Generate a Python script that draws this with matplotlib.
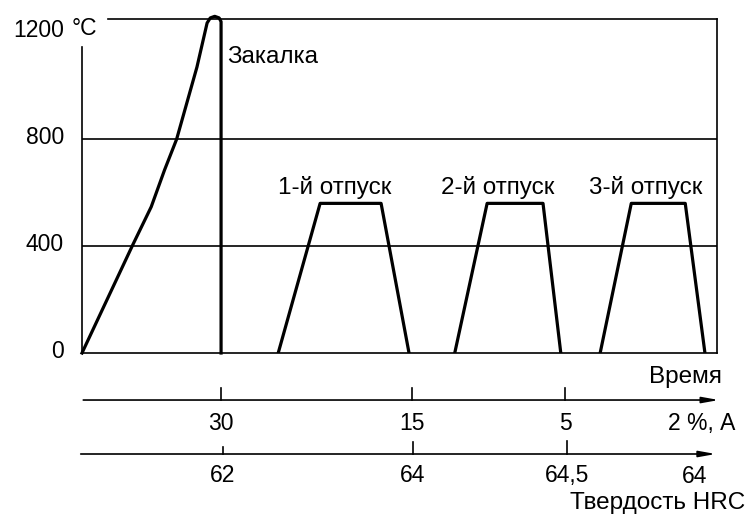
import matplotlib.pyplot as plt
from matplotlib.transforms import ScaledTranslation

plt.rcParams['font.family'] = ['Liberation Sans', 'DejaVu Sans']

# нагрев под закалку и охлаждение (время в условных единицах, температура в °C)
heat_t = [0, 8.0, 10.9, 13.0, 14.9, 18.1, 19.7, 20.2, 20.9, 21.6, 21.9, 21.9]
heat_T = [0, 405, 547, 685, 800, 1070, 1235, 1254, 1260, 1254, 1240, 0]

# три отпуска: начало нагрева, начало выдержки, конец выдержки, конец охлаждения
temper_t = [[30.9, 37.5, 47.1, 51.5],
            [58.7, 63.8, 72.6, 75.4],
            [81.6, 86.5, 95.0, 98.1]]
temper_T = [560, 560, 560]
temper_names = ['1-й отпуск', '2-й отпуск', '3-й отпуск']
temper_label_t = [39.8, 65.5, 88.7]

# остаточный аустенит (%) и твёрдость HRC после каждой операции
aust_t = [21.9, 52.0, 76.1]
aust = ['30', '15', '5', '2']
hrc_t = [22.2, 52.1, 76.4]
hrc = ['62', '64', '64,5', '64']

yticks = [0, 400, 800, 1200]

fs = 17.5   # подписи
fn = 16.5   # числа
lw_thin = 1.2
lw_thick = 2.3

fig = plt.figure(figsize=(7.46, 5.17), dpi=100)
ax = fig.add_axes([82 / 746, 164 / 517, 635 / 746, 334 / 517])
ax.set_xlim(0, 100)
ax.set_ylim(0, 1250)
for s in ax.spines.values():
    s.set_visible(False)
ax.set_xticks([])
ax.set_yticks(yticks)
ax.set_yticklabels([str(v) for v in yticks], fontsize=fn)
ax.tick_params(axis='y', length=0, pad=13)
up = ScaledTranslation(0, 4 / 100, fig.dpi_scale_trans)
for lab in ax.get_yticklabels():
    lab.set_transform(lab.get_transform() + up)

# рамка и сетка
ax.plot([0, 0], [0, 1145], color='black', lw=lw_thin, clip_on=False)
ax.plot([4.1, 100], [1250, 1250], color='black', lw=lw_thin, clip_on=False)
ax.plot([100, 100], [0, 1250], color='black', lw=lw_thin, clip_on=False)
ax.plot([0, 0 + 100], [0, 0], color='black', lw=lw_thin, clip_on=False)
for v in [400, 800]:
    ax.axhline(v, color='black', lw=lw_thin)
ax.text(-1.6, 1200, '°C', fontsize=fn, ha='left', va='center',
        transform=ax.transData + up)

# закалка
ax.plot(heat_t, heat_T, color='black', lw=lw_thick, clip_on=False,
        solid_joinstyle='round')
ax.text(22.8, 1106, 'Закалка', fontsize=fs, ha='left', va='center')

# отпуски
for t, T, name, lt in zip(temper_t, temper_T, temper_names, temper_label_t):
    ax.plot(t, [0, T, T, 0], color='black', lw=lw_thick)
    ax.text(lt, 620, name, fontsize=fs, ha='center', va='center')

# шкала времени и остаточного аустенита
y1 = -176
ax.annotate('', xy=(100.3, y1), xytext=(0.2, y1), annotation_clip=False,
            arrowprops=dict(arrowstyle='-|>,head_length=1.0,head_width=0.18',
                            color='black', lw=lw_thin, shrinkA=0, shrinkB=0))
ax.text(95.1, -90, 'Время', fontsize=fs, ha='center', va='center')
for t, lab in zip(aust_t, aust[:-1]):
    ax.plot([t, t], [y1, y1 + 45], color='black', lw=lw_thin, clip_on=False)
    ax.text(t, -264, lab, fontsize=fn, ha='center', va='center')
ax.text(92.3, -264, aust[-1] + ' %, А', fontsize=fn, ha='left', va='center')

# шкала твёрдости
y2 = -378
ax.annotate('', xy=(99.8, y2), xytext=(-0.2, y2), annotation_clip=False,
            arrowprops=dict(arrowstyle='-|>,head_length=1.0,head_width=0.18',
                            color='black', lw=lw_thin, shrinkA=0, shrinkB=0))
tick_h = [26, 45, 48]
for t, lab, h in zip(hrc_t, hrc[:-1], tick_h):
    ax.plot([t, t], [y2, y2 + h], color='black', lw=lw_thin, clip_on=False)
    ax.text(t, -457, lab, fontsize=fn, ha='center', va='center')
ax.text(96.5, -464, hrc[-1], fontsize=fn, ha='center', va='center')
ax.text(104.4, -560, 'Твердость HRC', fontsize=fs, ha='right', va='center')

fig.savefig('out.png', dpi=100)
